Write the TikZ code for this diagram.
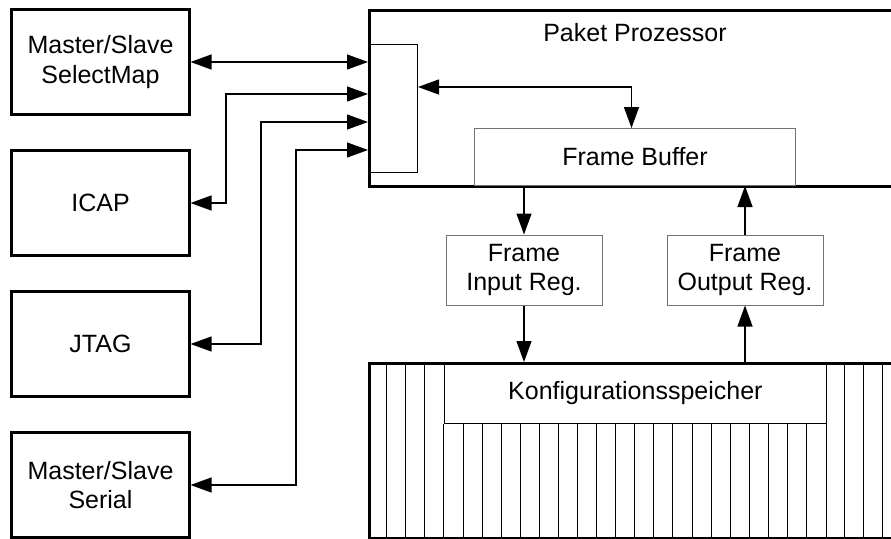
\documentclass[tikz,border=0pt]{standalone}
\usepackage{fontspec}
\setmainfont{Liberation Sans}
\usetikzlibrary{arrows.meta}
\begin{document}
\begin{tikzpicture}[x=1pt,y=-1pt,
  font=\fontsize{25}{29.5}\selectfont,
  iobox/.style={draw, line width=2.6pt, minimum width=177.5pt, minimum height=105.5pt, inner sep=0pt, align=center},
  bigbox/.style={draw, line width=2.6pt, inner sep=0pt, anchor=north west},
  regbox/.style={draw=black!55, line width=1pt, inner sep=0pt, align=center},
  thinbox/.style={draw, line width=1pt, inner sep=0pt},
  stripe/.style={line width=0.9pt},
  tip/.tip={Triangle[length=21pt,width=15pt]},
  link/.style={line width=1.3pt, -tip},
  blink/.style={line width=1.3pt, tip-tip},
]
\useasboundingbox (0,0) rectangle (891,538);
\clip (0,0) rectangle (891,538);

% configuration interfaces
\node[iobox] (sm)   at (100.5,62)  {Master/Slave\\SelectMap};
\node[iobox] (icap) at (100.5,203) {ICAP};
\node[iobox] (jtag) at (100.5,344) {JTAG};
\node[iobox] (ser)  at (100.5,485) {Master/Slave\\Serial};

% packet processor
\node[bigbox, minimum width=700pt, minimum height=176pt] (pp) at (368,9) {};
\node (pptitle) at (635,33) {Paket Prozessor};
\node[thinbox, minimum width=49pt, minimum height=127.5pt, anchor=north west] (mux) at (368,44) {};
\node[regbox, minimum width=321pt, minimum height=57pt, anchor=north west] (fb) at (474,128) {Frame Buffer};

% frame registers
\node[regbox, minimum width=156pt, minimum height=70pt] (fi) at (524,270) {Frame\\Input Reg.};
\node[regbox, minimum width=156pt, minimum height=70pt] (fo) at (745,270) {Frame\\Output Reg.};

% configuration memory
\node[bigbox, minimum width=700pt, minimum height=175pt] (ks) at (368,362) {};
\node[thinbox, minimum width=382pt, minimum height=61pt, anchor=north west] (kl) at (443.9,362) {Konfigurationsspeicher};
\foreach \k in {1,2,3,25,26,27}
  \draw[stripe] (367.6+19.08*\k,362) -- (367.6+19.08*\k,537);
\foreach \k in {5,...,23}
  \draw[stripe] (367.6+19.08*\k,423) -- (367.6+19.08*\k,537);
\draw[stripe] (kl.south west) -- (kl.south west |- 0,537);
\draw[stripe] (kl.south east) -- (kl.south east |- 0,537);

% bend points of the interface links
\coordinate (bi) at (226,94);
\coordinate (bj) at (261,122);
\coordinate (bs) at (296,150);

% links
\draw[blink] (sm.east) -- (sm.east -| pp.west);
\draw[blink] (icap.east) -| (bi) -- (bi -| pp.west);
\draw[blink] (jtag.east) -| (bj) -- (bj -| pp.west);
\draw[blink] (ser.east) -| (bs) -- (bs -| pp.west);
\draw[blink] (mux.east |- 0,87) -| ([xshift=-3.5pt]fb.north);
\draw[link] (fi.north |- fb.south) -- (fi.north);
\draw[link] (fo.north) -- (fo.north |- fb.south);
\draw[link] (fi.south) -- (fi.south |- ks.north);
\draw[link] (fo.south |- ks.north) -- (fo.south);
\end{tikzpicture}
\end{document}
